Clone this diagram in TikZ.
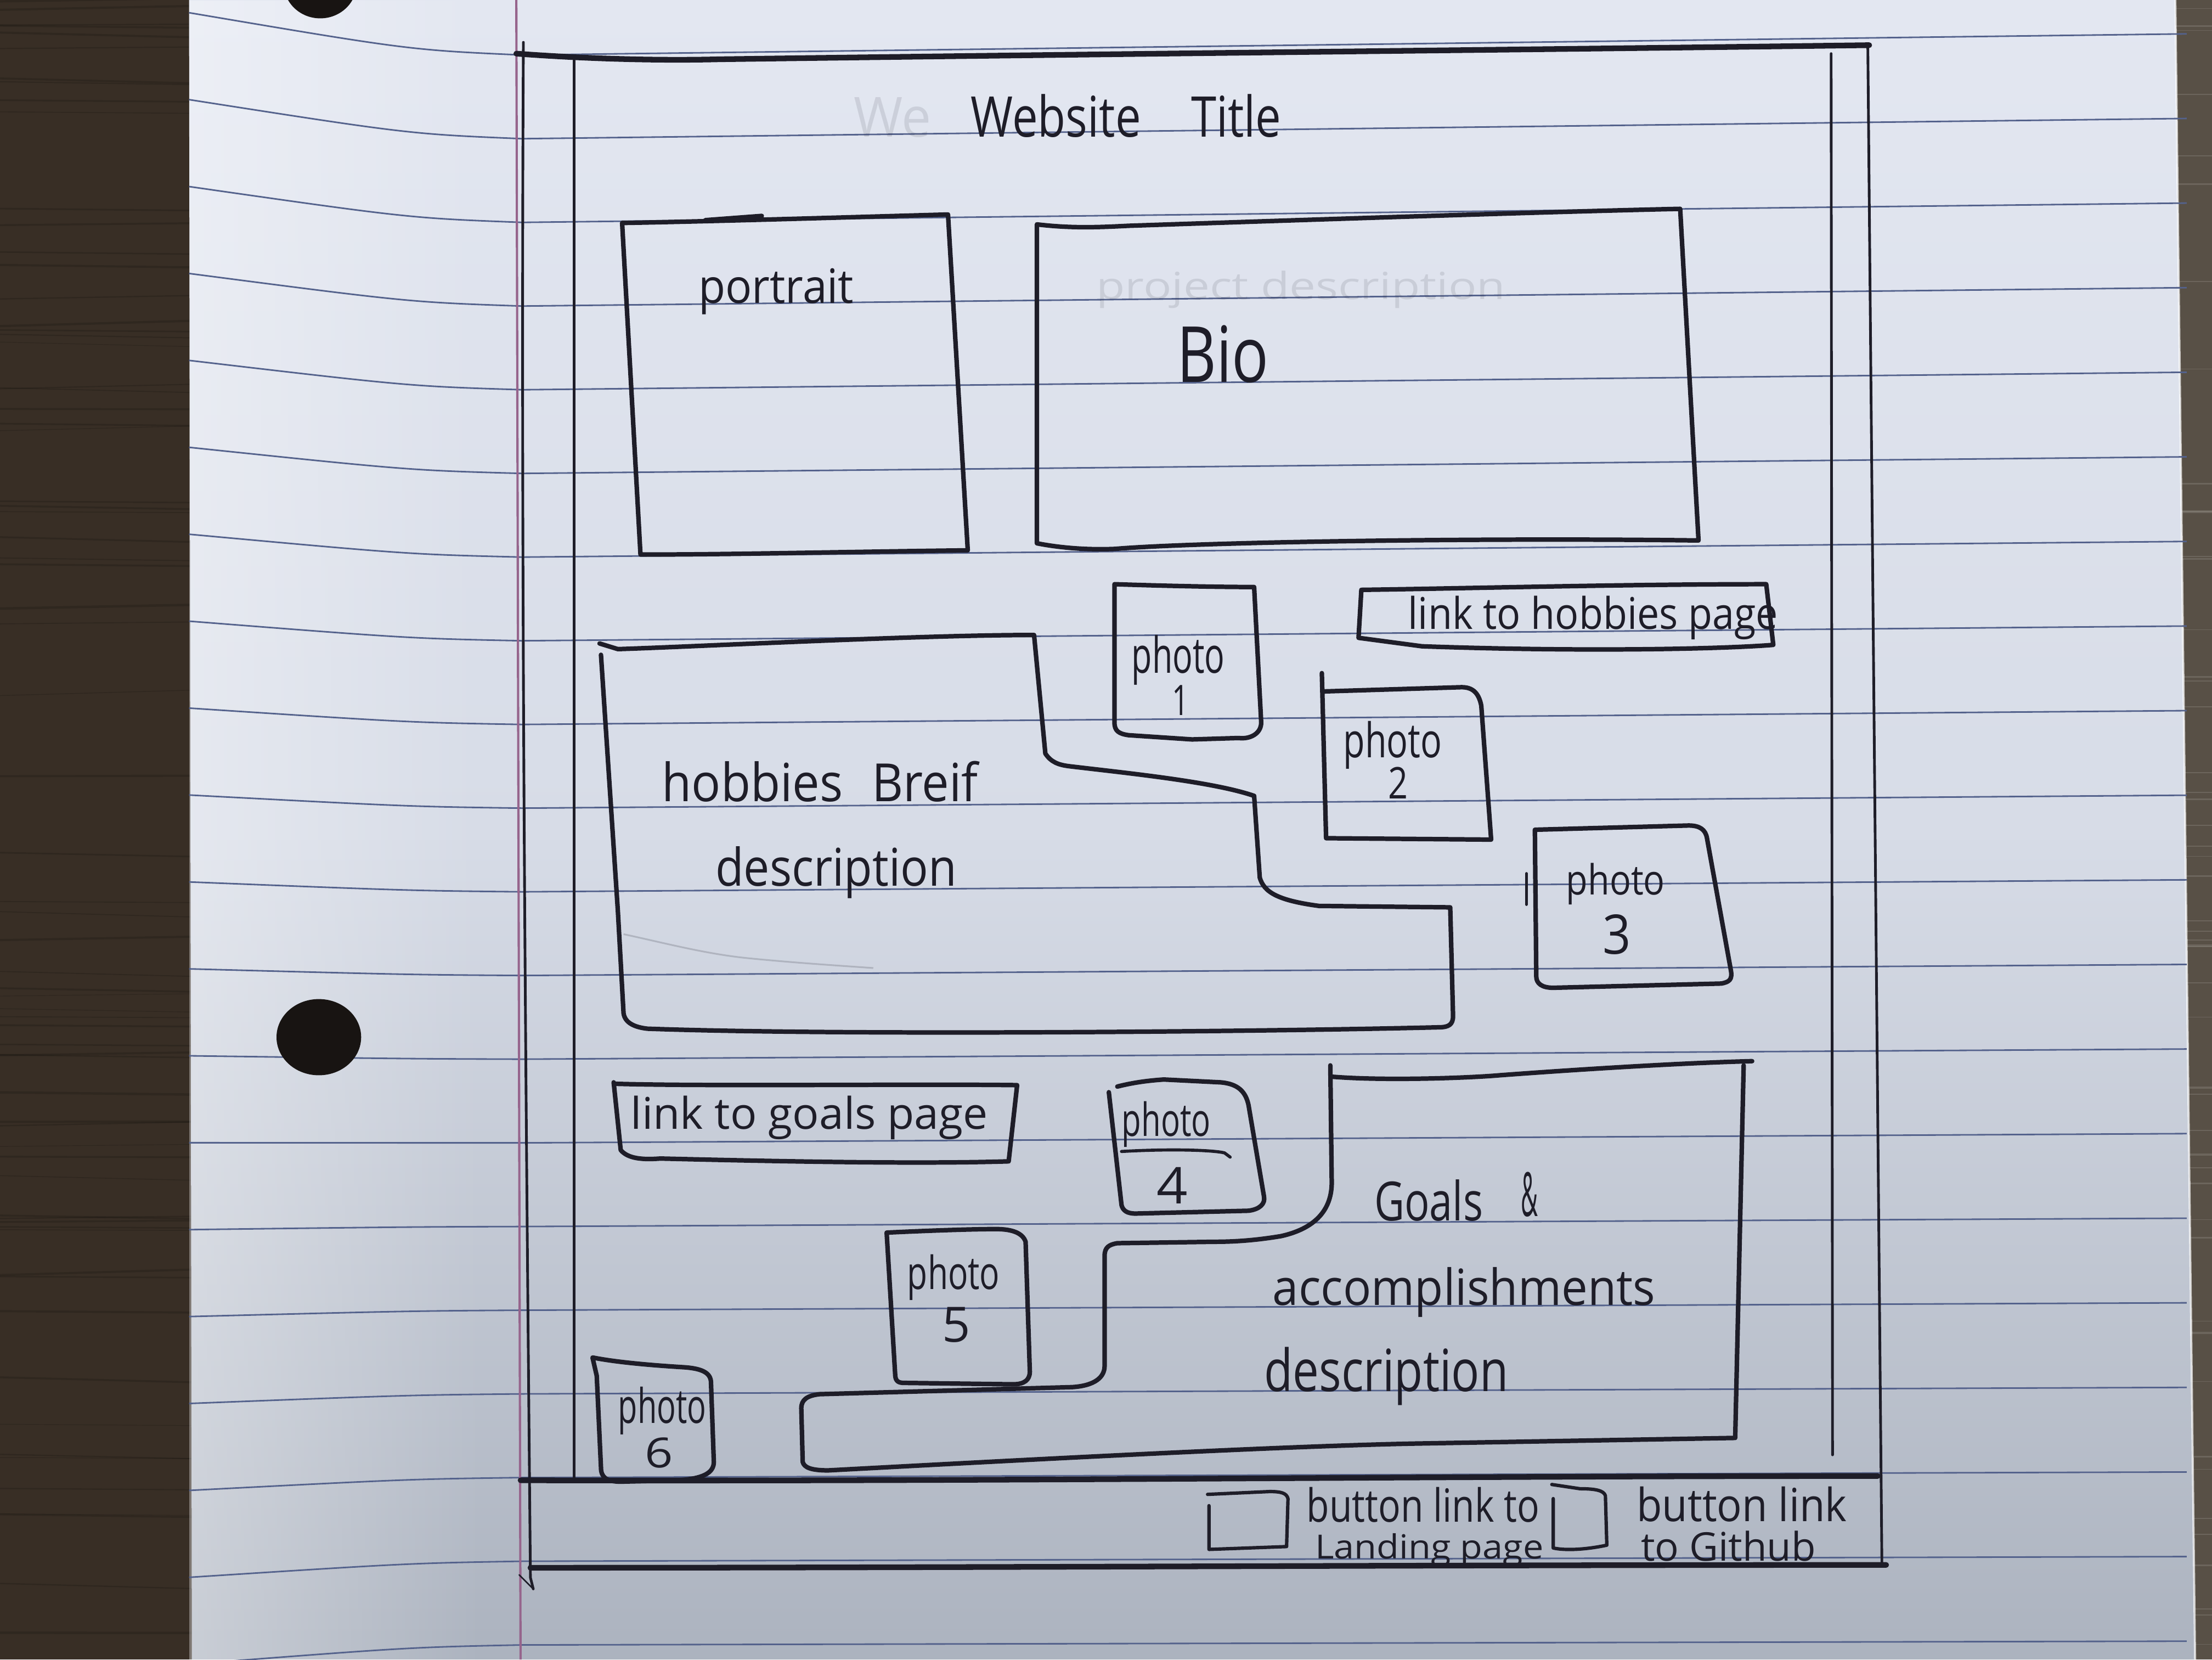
\documentclass[tikz,border=0pt]{standalone}
\usepackage{fontspec}
\usepackage{graphicx}
\usetikzlibrary{fadings}
\newfontfamily\handfont{Open Sans}

\definecolor{ink}{RGB}{30,29,40}
\definecolor{papertop}{RGB}{227,231,241}
\definecolor{papermid}{RGB}{215,220,231}
\definecolor{paperbot}{RGB}{172,179,191}
\definecolor{ruleblue}{RGB}{84,98,140}
\definecolor{marginred}{RGB}{150,100,140}
\definecolor{woodleft}{RGB}{56,46,37}
\definecolor{woodright}{RGB}{88,80,70}
\definecolor{holeblack}{RGB}{24,20,18}

% text squeezed into a given width and height (in pt); height gets a little extra
\newcommand\handtxt[3]{\resizebox{#1pt}{\dimexpr #2pt*112/100\relax}{\handfont #3}}

\tikzset{
  inkline/.style={draw=ink, line width=3.2pt, line cap=round, line join=round},
  heavyline/.style={draw=ink, line width=4pt, line cap=round, line join=round},
  frameline/.style={draw=ink, line width=1.9pt, line cap=round},
  ruling/.style={draw=ruleblue, line width=1.1pt},
  handlabel/.style={inner sep=0pt, anchor=base west, text=ink},
  handdigit/.style={inner sep=0pt, anchor=base, text=ink},
  erased/.style={inner sep=0pt, anchor=base west, text=ink, opacity=0.11},
}

\begin{document}
\begin{tikzpicture}[x=1pt,y=-1pt]
\useasboundingbox (0,0) rectangle (1568,1176);
\clip (0,0) rectangle (1568,1176);

% desk
\fill[woodleft] (0,0) rectangle (140,1176);
\fill[woodright] (1540,0) rectangle (1568,1176);
\pgfmathsetseed{11}
\foreach \i in {1,...,70}{
  \pgfmathsetmacro\gy{rnd*1176}
  \pgfmathsetmacro\gw{0.4+rnd*1.4}
  \pgfmathsetmacro\gd{rand*4}
  \draw[black, opacity=0.15, line width=\gw pt] (0,\gy) -- (140,\gy+\gd);
}
\foreach \i in {1,...,50}{
  \pgfmathsetmacro\gy{rnd*1176}
  \pgfmathsetmacro\gw{0.4+rnd*1.2}
  \draw[white, opacity=0.12, line width=\gw pt] (1540,\gy) -- (1568,\gy);
}

% sheet of paper
\shade[top color=papertop, bottom color=paperbot, middle color=papermid]
  (134,0) -- (1542,0) -- (1556,1176) -- (136,1176) -- cycle;
\fill[white, opacity=0.35, path fading=east] (134,0) rectangle (345,1176);
\draw[white, opacity=0.7, line width=1.5pt] (1542,0) -- (1556,1176);

% ruled lines
\foreach \k in {0,...,19}{
  \pgfmathsetmacro\ym{39+59.3*\k}
  \pgfmathsetmacro\yl{\ym-30+2.3*\k}
  \pgfmathsetmacro\yc{\ym+0.12*(-30+2.3*\k)}
  \pgfmathsetmacro\yr{\ym-15+0.65*\k}
  \draw[ruling] (134,\yl) .. controls (290,\yc) .. (370,\ym) -- (1550,\yr);
}
% margin line
\draw[marginred, line width=1.6pt] (366,0) -- (369,1176);

% binder holes
\fill[holeblack] (227,-12) ellipse [x radius=26pt, y radius=25pt];
\fill[holeblack] (226,735) ellipse [x radius=30pt, y radius=27pt];

% page frame
\draw[frameline] (371,30) .. controls (369,400) and (373,800) .. (376,1118) -- (378,1126);
\draw[ink, line width=1pt, line cap=round] (378,1126) -- (368,1116);
\draw[heavyline] (366,38) .. controls (420,42) and (470,43) .. (510,42)
  .. controls (800,38) and (1100,35) .. (1325,32);
\draw[frameline] (407,40) -- (407,1048);
\draw[frameline] (1298,38) -- (1299,1031);
\draw[frameline] (1324,32) -- (1334,1109);
\draw[heavyline] (369,1049) .. controls (700,1050) and (1000,1046) .. (1331,1046);
\draw[heavyline] (376,1111) .. controls (700,1111) and (1000,1109) .. (1337,1109);

% header
\node[erased] (ghostweb) at (605,97) {\handtxt{55}{25}{We}};
\node[handlabel] (title) at (688,97) {\handtxt{220}{27}{Website\hspace{1.1em}Title}};

% portrait box
\draw[inkline] (441,158) .. controls (500,157) and (600,154) .. (672,152) -- (686,390)
  .. controls (600,391) and (520,393) .. (454,393) -- cycle;
\draw[inkline] (500,156) -- (540,153);
\node[handlabel] (portrait) at (495,215) {\handtxt{110}{22}{portrait}};

% bio box
\draw[inkline] (735,159) .. controls (760,162) and (780,161) .. (800,160)
  .. controls (950,155) and (1100,150) .. (1191,148) -- (1204,383)
  .. controls (1050,381) and (850,384) .. (790,389)
  .. controls (765,390) and (745,387) .. (735,385) -- cycle;
\node[erased] (ghostproj) at (777,212) {\handtxt{290}{18}{project description}};
\node[handlabel] (bio) at (834,271) {\handtxt{65}{36}{Bio}};

% hobbies block
\draw[inkline] (425,456) -- (438,460) .. controls (500,458) and (650,450) .. (733,450)
  -- (741,534) .. controls (745,540) and (750,542) .. (758,543)
  .. controls (800,548) and (860,554) .. (889,564) -- (893,622)
  .. controls (896,632) and (905,638) .. (935,642) -- (1028,643) -- (1030,720)
  .. controls (1030,726) and (1027,728) .. (1020,728)
  .. controls (900,731) and (600,734) .. (459,729)
  .. controls (450,728) and (443,725) .. (442,718) -- (438,646) -- (426,464);
\draw[ink, opacity=0.18, line width=1.2pt] (442,662) .. controls (470,668) and (500,676) .. (530,679)
  .. controls (560,682) and (590,684) .. (619,686);
\node[handlabel] (hobbiestxt) at (469,568) {\handtxt{224}{25.5}{hobbies\hspace{0.6em}Breif}};
\node[handlabel] (hobbiesdesc) at (507,628) {\handtxt{171}{25}{description}};

% photo 1
\draw[inkline] (790,414) .. controls (820,415) and (860,416) .. (889,416) -- (894,512)
  .. controls (894,520) and (886,524) .. (878,523) -- (845,524) -- (800,521)
  .. controls (793,520) and (790,518) .. (790,512) -- cycle;
\node[handlabel] (p1a) at (802,477) {\handtxt{66}{24}{photo}};
\node[handdigit] (p1b) at (837,507) {\handtxt{12}{19}{1}};

% link to hobbies page
\draw[inkline] (965,418) .. controls (1040,417) and (1150,414) .. (1252,414) -- (1257,457)
  .. controls (1220,460) and (1120,462) .. (1008,458) -- (963,452) -- cycle;
\node[handlabel] (hobbylink) at (998,446) {\handtxt{262}{21}{link to hobbies page}};

% photo 2
\draw[inkline] (937,477) -- (940,594) -- (1057,595) -- (1050,500)
  .. controls (1048,490) and (1043,487) .. (1036,487) -- (938,490);
\node[handlabel] (p2a) at (952,537) {\handtxt{70}{23}{photo}};
\node[handdigit] (p2b) at (991,566) {\handtxt{14}{20}{2}};

% photo 3
\draw[inkline] (1088,588) -- (1197,585) .. controls (1205,585) and (1209,588) .. (1210,594)
  -- (1227,688) .. controls (1228,694) and (1226,696) .. (1220,697) -- (1101,700)
  .. controls (1093,700) and (1089,697) .. (1089,692) -- cycle;
\draw[inkline, line width=2pt] (1082,619) -- (1082,641);
\node[handlabel] (p3a) at (1110,634) {\handtxt{70}{20}{photo}};
\node[handdigit] (p3b) at (1146,676) {\handtxt{20}{25}{3}};

% link to goals page
\draw[inkline] (435,767) -- (440,815) .. controls (445,821) and (455,822) .. (468,821)
  .. controls (550,823) and (650,825) .. (715,823) -- (721,769)
  .. controls (650,768) and (500,770) .. (435,768);
\node[handlabel] (goallink) at (447,800) {\handtxt{253}{21}{link to goals page}};

% photo 4
\draw[inkline] (786,774) -- (795,854) .. controls (796,858) and (799,860) .. (805,860)
  -- (885,858) .. controls (893,857) and (897,853) .. (896,848) -- (885,783)
  .. controls (883,774) and (878,768) .. (865,767) -- (825,765)
  .. controls (810,766) and (800,768) .. (792,770);
\draw[inkline, line width=2.2pt] (795,816) .. controls (830,814) and (860,815) .. (868,817) -- (872,820);
\node[handlabel] (p4a) at (795,805) {\handtxt{63}{22}{photo}};
\node[handdigit] (p4b) at (831,853) {\handtxt{22}{23}{4}};

% goals block
\draw[inkline] (943,755) -- (944,838) .. controls (944,855) and (935,870) .. (908,876)
  .. controls (890,879) and (875,880) .. (861,880) -- (792,881)
  .. controls (786,882) and (783,884) .. (783,890) -- (783,968)
  .. controls (783,976) and (776,982) .. (760,983) -- (581,988)
  .. controls (572,989) and (568,992) .. (568,998) -- (569,1036)
  .. controls (570,1040) and (575,1042) .. (587,1042)
  .. controls (700,1036) and (900,1025) .. (1003,1023) -- (1230,1019)
  -- (1236,755);
\draw[inkline] (944,763) .. controls (980,766) and (1040,764) .. (1063,762)
  .. controls (1130,757) and (1200,753) .. (1242,752);
\node[handlabel] (goalstxt) at (974,865) {\handtxt{77}{26}{Goals}};
\node[handdigit] (amp) at (1084,862) {\handtxt{12}{28}{\&}};
\node[handlabel] (accomp) at (902,925) {\handtxt{271}{24}{accomplishments}};
\node[handlabel] (goalsdesc) at (896,986) {\handtxt{173}{28}{description}};

% photo 5
\draw[inkline] (628.5,873.5) .. controls (660,872) and (690,871) .. (706,871)
  .. controls (718,871) and (725,874) .. (727,880) -- (730,972)
  .. controls (730,978) and (726,981) .. (718,981) -- (641,980)
  .. controls (637,980) and (635,979) .. (634.6,975) -- cycle;
\node[handlabel] (p5a) at (643,913.6) {\handtxt{65.5}{22}{photo}};
\node[handdigit] (p5b) at (678,951) {\handtxt{20}{22}{5}};

% photo 6
\draw[inkline] (420,962) .. controls (440,966) and (470,968) .. (486,969)
  .. controls (498,970) and (504,973) .. (504,980) -- (506,1036)
  .. controls (506,1044) and (498,1048) .. (480,1049) -- (440,1050)
  .. controls (430,1050) and (426,1047) .. (426,1040) -- (423,975) -- cycle;
\node[handlabel] (p6a) at (438,1008.5) {\handtxt{62.5}{23}{photo}};
\node[handdigit] (p6b) at (467,1040) {\handtxt{20}{19}{6}};

% footer buttons
\draw[inkline, line width=2.4pt] (857,1067) -- (857,1098) -- (912,1096) -- (913,1062)
  .. controls (912,1058) and (908,1057) .. (900,1057) -- (856,1059);
\node[handlabel] (btn1a) at (926,1078.6) {\handtxt{165}{22}{button link to}};
\node[handlabel] (btn1b) at (932,1104.6) {\handtxt{162}{16}{Landing page}};
\draw[inkline, line width=2.4pt] (1101,1062) -- (1101,1097)
  .. controls (1110,1099) and (1125,1098) .. (1139,1095) -- (1138,1060)
  .. controls (1137,1056) and (1130,1055) .. (1120,1055) -- (1100,1052);
\node[handlabel] (btn2a) at (1160,1078) {\handtxt{149}{22}{button link}};
\node[handlabel] (btn2b) at (1163,1106) {\handtxt{124}{19}{to Github}};
\end{tikzpicture}
\end{document}
